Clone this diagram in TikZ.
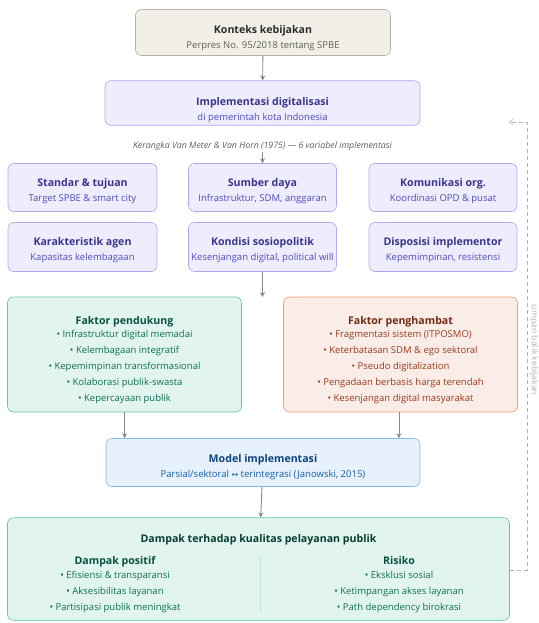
\documentclass[tikz,border=0pt]{standalone}
\usepackage{fontspec}
\setmainfont{Open Sans}
\newfontfamily\symfont{DejaVu Sans}
\usetikzlibrary{arrows.meta}
\definecolor{kFill}{HTML}{F1EFE8}\definecolor{kLine}{HTML}{B4B2A9}
\definecolor{kTitle}{HTML}{2C2C2A}\definecolor{kSub}{HTML}{5F5E5A}
\definecolor{pFill}{HTML}{EEEDFE}\definecolor{pLine}{HTML}{AFA9EC}
\definecolor{pTitle}{HTML}{3C3489}\definecolor{pSub}{HTML}{534AB7}
\definecolor{tFill}{HTML}{E1F5EE}\definecolor{tLine}{HTML}{5DCAA5}
\definecolor{tTitle}{HTML}{085041}\definecolor{tSub}{HTML}{0F6E56}
\definecolor{cFill}{HTML}{FAECE7}\definecolor{cLine}{HTML}{F0997B}
\definecolor{cTitle}{HTML}{712B13}\definecolor{cSub}{HTML}{993C1D}
\definecolor{bFill}{HTML}{E6F1FB}\definecolor{bLine}{HTML}{85B7EB}
\definecolor{bTitle}{HTML}{0C447C}\definecolor{bSub}{HTML}{185FA5}
\definecolor{arr}{HTML}{888780}
\definecolor{fb}{HTML}{B4B2A9}
\tikzset{
  box/.style={rounded corners=6pt, line width=0.6pt, inner sep=0pt},
  kbox/.style={box, fill=kFill, draw=kLine},
  pbox/.style={box, fill=pFill, draw=pLine},
  tbox/.style={box, fill=tFill, draw=tLine},
  cbox/.style={box, fill=cFill, draw=cLine},
  bbox/.style={box, fill=bFill, draw=bLine},
  txt/.style={inner sep=0pt, align=center, font=\fontsize{9.5}{16}\selectfont},
  flow/.style={draw=arr, line width=0.9pt, -{Stealth[length=5pt,width=5pt]}},
  fbline/.style={draw=fb, line width=0.7pt, dash pattern=on 4pt off 3pt},
}
\newcommand{\ttlA}[1]{{\fontsize{10.6}{12}\selectfont\bfseries #1}}
\begin{document}
\begin{tikzpicture}[x=1pt,y=-1pt]
\useasboundingbox (0,0) rectangle (538,623);
% top
\node[kbox, minimum width=255pt, minimum height=46pt] (konteks) at (263,32.5) {};
\node[txt, text=kSub] (konteks-t) at (263,38)
  {\textcolor{kTitle}{\ttlA{Konteks kebijakan}}\\[-1pt]Perpres No. 95/2018 tentang SPBE};
\node[pbox, minimum width=315pt, minimum height=44.5pt] (impl) at (262.5,103) {};
\node[txt, text=pSub] (impl-t) at (262.5,110)
  {\textcolor{pTitle}{\ttlA{Implementasi digitalisasi}}\\[-1pt]di pemerintah kota Indonesia};
\node[font=\fontsize{8.8}{10}\selectfont\itshape, text=kSub, inner sep=1pt] (kerangka) at (262.5,146)
  {Kerangka Van Meter \& Van Horn (1975) — 6 variabel implementasi};
% six variables
\node[pbox, minimum width=149pt, minimum height=48pt] (standar) at (82.5,187.5) {};
\node[txt, text=pSub] (standar-t) at (82.5,191)
  {\textcolor{pTitle}{\ttlA{Standar \& tujuan}}\\[-1pt]Target SPBE \& smart city};
\node[pbox, minimum width=148pt, minimum height=48pt] (sumber) at (262.5,187.5) {};
\node[txt, text=pSub] (sumber-t) at (262.5,191)
  {\textcolor{pTitle}{\ttlA{Sumber daya}}\\[-1pt]Infrastruktur, SDM, anggaran};
\node[pbox, minimum width=148pt, minimum height=48pt] (komunikasi) at (443,187.5) {};
\node[txt, text=pSub] (komunikasi-t) at (443,191)
  {\textcolor{pTitle}{\ttlA{Komunikasi org.}}\\[-1pt]Koordinasi OPD \& pusat};
\node[pbox, minimum width=149pt, minimum height=49pt] (karakter) at (82.5,247) {};
\node[txt, text=pSub] (karakter-t) at (82.5,250)
  {\textcolor{pTitle}{\ttlA{Karakteristik agen}}\\[-1pt]Kapasitas kelembagaan};
\node[pbox, minimum width=148pt, minimum height=49pt] (kondisi) at (262.5,247) {};
\node[txt, text=pSub] (kondisi-t) at (262.5,250)
  {\textcolor{pTitle}{\ttlA{Kondisi sosiopolitik}}\\[-1pt]Kesenjangan digital, political will};
\node[pbox, minimum width=148pt, minimum height=49pt] (disposisi) at (443,247) {};
\node[txt, text=pSub] (disposisi-t) at (443,250)
  {\textcolor{pTitle}{\ttlA{Disposisi implementor}}\\[-1pt]Kepemimpinan, resistensi};
% factors
\node[tbox, minimum width=234pt, minimum height=115pt] (pendukung) at (124.5,354.5) {};
\node[txt, text=tSub] (pendukung-t) at (124.5,360.3)
  {\textcolor{tTitle}{\ttlA{Faktor pendukung}}\\[-3pt]
   • Infrastruktur digital memadai\\
   • Kelembagaan integratif\\
   • Kepemimpinan transformasional\\
   • Kolaborasi publik-swasta\\
   • Kepercayaan publik};
\node[cbox, minimum width=234pt, minimum height=115pt] (penghambat) at (400.5,354.5) {};
\node[txt, text=cSub] (penghambat-t) at (400.5,360.3)
  {\textcolor{cTitle}{\ttlA{Faktor penghambat}}\\[-3pt]
   • Fragmentasi sistem (ITPOSMO)\\
   • Keterbatasan SDM \& ego sektoral\\
   • Pseudo digitalization\\
   • Pengadaan berbasis harga terendah\\
   • Kesenjangan digital masyarakat};
% model
\node[bbox, minimum width=314pt, minimum height=48pt] (model) at (263,462.5) {};
\node[txt, text=bSub] (model-t) at (263,467)
  {\textcolor{bTitle}{\ttlA{Model implementasi}}\\[-1pt]Parsial/sektoral {\symfont\fontsize{8}{10}\selectfont ↔} terintegrasi (Janowski, 2015)};
% dampak
\node[tbox, minimum width=502pt, minimum height=102.5pt] (dampak) at (258.5,569) {};
\node[inner sep=0pt, text=tTitle!75!black] (dtitle) at (258.5,540) {\ttlA{Dampak terhadap kualitas pelayanan publik}};
\node[txt, text=tSub] (positif) at (115,584.5)
  {\textcolor{tTitle}{\ttlA{Dampak positif}}\\[-2pt]
   • Efisiensi \& transparansi\\
   • Aksesibilitas layanan\\
   • Partisipasi publik meningkat};
\node[txt, text=tSub] (risiko) at (399,584.5)
  {\textcolor{tTitle}{\ttlA{Risiko}}\\[-2pt]
   • Eksklusi sosial\\
   • Ketimpangan akses layanan\\
   • Path dependency birokrasi};
\coordinate (divtop) at (260,555);
\coordinate (divbot) at (260,612);
\draw[draw=tLine!45, line width=0.5pt] (divtop) -- (divbot);
% arrows
\draw[flow] (konteks) -- (impl);
\draw[flow] (kerangka.south) -- (sumber.north);
\coordinate (kondend) at (262.5,297);
\draw[flow] (kondisi.south) -- (kondend);
\draw[flow] (pendukung.south -| 124.6,0) -- (model.north -| 124.6,0);
\draw[flow] (penghambat.south -| 399,0) -- (model.north -| 399,0);
\draw[flow] (model) -- (dampak);
% feedback
\coordinate (fbA) at (527,570);
\coordinate (fbB) at (527,122);
\coordinate (fbC) at (509,122);
\draw[fbline, -{Straight Barb[length=3pt,width=5pt]}] (dampak.east |- fbA) -- (fbA) -- (fbB) -- (fbC);
\node[rotate=-90, font=\fontsize{8.6}{10}\selectfont, text=fb, inner sep=0pt] (fblabel) at (534,350) {umpan balik kebijakan};
\end{tikzpicture}
\end{document}
